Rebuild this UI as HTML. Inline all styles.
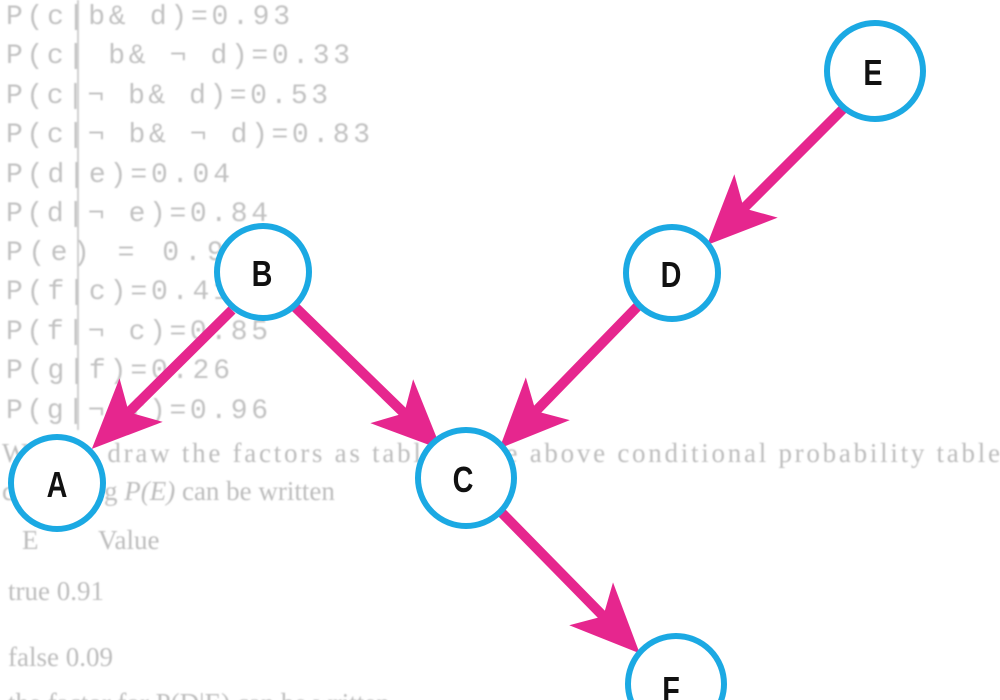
<!DOCTYPE html>
<html><head><meta charset="utf-8"><style>
html,body{margin:0;padding:0;background:#fff;width:1000px;height:700px;overflow:hidden}
svg{display:block}
.m{font-family:"Liberation Mono",monospace;font-size:28px;fill:#c2c2c2}
.s{font-family:"Liberation Serif",serif;font-size:27px;fill:#bdbdbd}
.n{font-family:"Liberation Sans Narrow","Liberation Sans",sans-serif;font-weight:bold;font-size:36px;fill:#111}
</style></head><body>
<svg width="1000" height="700" viewBox="0 0 1000 700">
<defs>
<marker id="ah" markerUnits="userSpaceOnUse" markerWidth="80" markerHeight="80" viewBox="-20 -30 60 60" refX="0" refY="0" orient="auto">
<path d="M35,0 L-17,-23 L-4,0 L-17,23 Z" fill="#e6268e"/>
</marker>
<filter id="bl"><feGaussianBlur stdDeviation="0.8"/></filter>
</defs>
<g filter="url(#bl)">
<line x1="78" y1="0" x2="78" y2="430" stroke="#d0d0d0" stroke-width="2"/>
<text class="m" x="6" y="24" textLength="284">P(c|b&amp; d)=0.93</text>
<text class="m" x="6" y="63" textLength="344">P(c| b&amp; ¬ d)=0.33</text>
<text class="m" x="6" y="103" textLength="322">P(c|¬ b&amp; d)=0.53</text>
<text class="m" x="6" y="142" textLength="364">P(c|¬ b&amp; ¬ d)=0.83</text>
<text class="m" x="6" y="182" textLength="224">P(d|e)=0.04</text>
<text class="m" x="6" y="221" textLength="262">P(d|¬ e)=0.84</text>
<text class="m" x="6" y="260" textLength="240">P(e) = 0.91</text>
<text class="m" x="6" y="299" textLength="224">P(f|c)=0.41</text>
<text class="m" x="6" y="339" textLength="262">P(f|¬ c)=0.85</text>
<text class="m" x="6" y="378" textLength="224">P(g|f)=0.26</text>
<text class="m" x="6" y="418" textLength="262">P(g|¬ f)=0.96</text>
<text class="s" x="2" y="462" textLength="998">We can draw the factors as tables. The above conditional probability table</text>
<text class="s" x="2" y="500">computing <tspan font-style="italic">P(E)</tspan> can be written</text>
<text class="s" x="22" y="549">E</text><text class="s" x="98" y="549">Value</text>
<text class="s" x="8" y="600">true  0.91</text>
<text class="s" x="8" y="666">false 0.09</text>
<text class="s" x="8" y="712">the factor for P(D|E) can be written</text>
</g>
<g stroke="#e6268e" stroke-width="10" marker-end="url(#ah)">
<line x1="846" y1="106" x2="740" y2="212"/>
<line x1="232" y1="310" x2="125" y2="416"/>
<line x1="295" y1="307" x2="408" y2="417"/>
<line x1="638" y1="306" x2="532" y2="415"/>
<line x1="500" y1="511" x2="607" y2="620"/>
</g>
<g fill="#fff" stroke="#1ba9e3" stroke-width="6">
<circle cx="875" cy="71" r="48"/>
<circle cx="672" cy="273" r="46"/>
<circle cx="263" cy="272" r="46"/>
<circle cx="57" cy="483" r="46"/>
<circle cx="466" cy="478" r="48"/>
<circle cx="676" cy="684" r="48"/>
</g>
<g class="n" text-anchor="middle">
<text transform="translate(873,85) scale(0.8,1)">E</text>
<text transform="translate(671,287) scale(0.8,1)">D</text>
<text transform="translate(262,286) scale(0.8,1)">B</text>
<text transform="translate(57,497) scale(0.8,1)">A</text>
<text transform="translate(463,492) scale(0.8,1)">C</text>
<text transform="translate(671,702) scale(0.8,1)">F</text>
</g>
</svg>
</body></html>
